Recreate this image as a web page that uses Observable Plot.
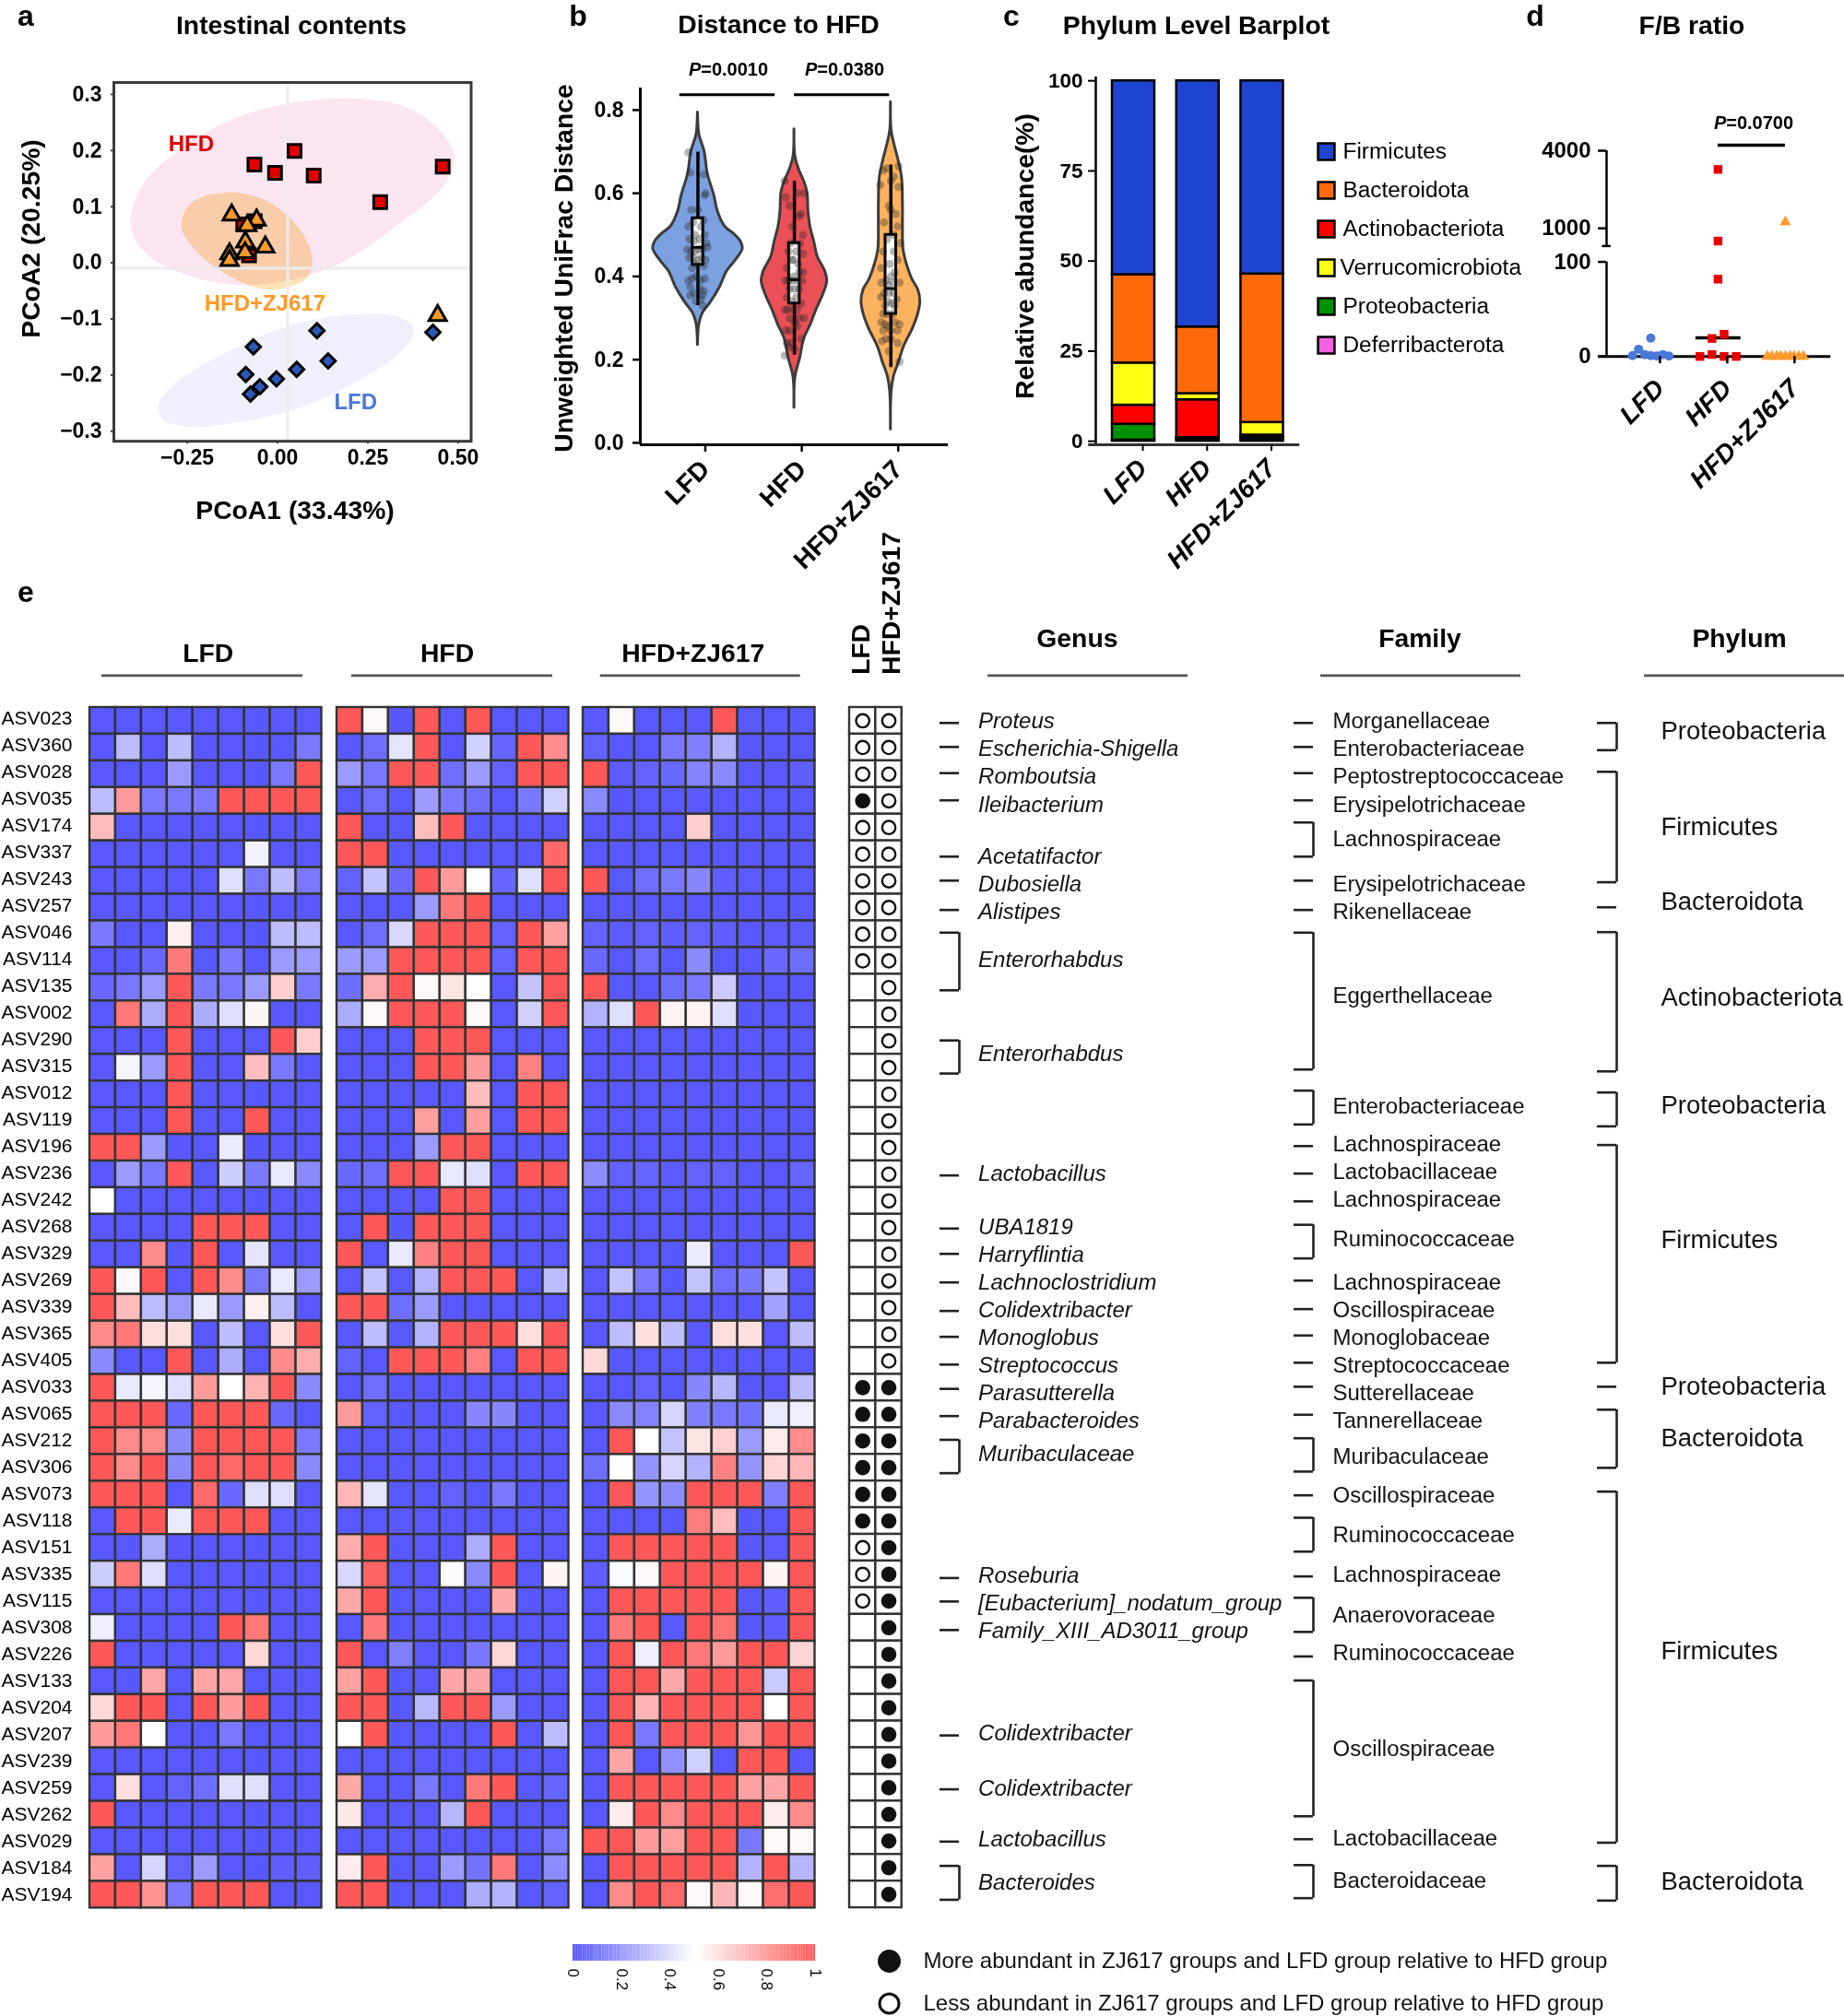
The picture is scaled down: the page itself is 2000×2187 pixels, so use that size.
<!DOCTYPE html>
<html><head><meta charset="utf-8">
<script src="https://cdn.jsdelivr.net/npm/d3@7"></script>
<script src="https://cdn.jsdelivr.net/npm/@observablehq/plot@0.6"></script>
<style>
html,body{margin:0;padding:0;background:#fff}
#page{position:relative;width:2000px;height:2187px;overflow:hidden;font-family:"Liberation Sans",Arial,sans-serif;color:#000}
#page>svg{position:absolute;overflow:visible;background:transparent}
.note{position:absolute;white-space:nowrap;line-height:1}
</style></head><body><div id="page"></div>
<script>
// ---------- Panel a: PCoA ----------
const pcoaHFD=[[-0.092,0.185],[-0.035,0.170],[0.019,0.209],[0.072,0.165],[0.256,0.118],[0.429,0.181],[-0.091,0.084],[-0.123,0.078],[-0.107,0.023]];
const pcoaZJ=[[-0.155,0.095],[-0.086,0.086],[-0.112,0.076],[-0.117,0.047],[-0.062,0.038],[-0.118,0.028],[-0.161,0.026],[-0.161,0.014],[0.415,-0.084]];
const pcoaLFD=[[0.081,-0.111],[-0.095,-0.140],[0.112,-0.165],[0.025,-0.180],[-0.116,-0.189],[-0.031,-0.197],[-0.077,-0.211],[-0.103,-0.224],[0.402,-0.114]];
const ellipseHFD=[[-0.435,0.081],[-0.40,0.150],[-0.282,0.219],[-0.109,0.276],[0.164,0.303],[0.345,0.282],[0.445,0.226],[0.462,0.191],[0.427,0.144],[0.30,0.075],[0.145,0.009],[-0.009,-0.023],[-0.155,-0.029],[-0.30,-0.007],[-0.40,0.031]];
const ellipseZJ=[[-0.294,0.075],[-0.268,0.116],[-0.173,0.135],[-0.064,0.122],[0.027,0.075],[0.068,0.018],[0.05,-0.019],[-0.055,-0.038],[-0.155,-0.016],[-0.245,0.025]];
const ellipseLFD=[[-0.359,-0.246],[-0.318,-0.208],[-0.155,-0.145],[0.027,-0.098],[0.209,-0.081],[0.318,-0.089],[0.35,-0.111],[0.318,-0.145],[0.209,-0.196],[0.027,-0.25],[-0.155,-0.276],[-0.282,-0.282],[-0.345,-0.269]];
const pcoaXTicks=[-0.25,0,0.25,0.5];
const pcoaYTicks=[-0.3,-0.2,-0.1,0,0.1,0.2,0.3];

// ---------- Panel b: violins ----------
const groups=["LFD","HFD","HFD+ZJ617"];
const violinLFD=[[.794,0],[.756,.007],[.738,.017],[.701,.068],[.647,.102],[.593,.171],[.557,.205],[.520,.28],[.502,.375],[.484,.444],[.466,.464],[.439,.392],[.412,.30],[.376,.232],[.339,.137],[.312,.051],[.285,.014],[.235,0]];
const violinHFD=[[.754,0],[.688,.01],[.656,.05],[.629,.10],[.602,.135],[.557,.145],[.520,.165],[.484,.205],[.448,.24],[.412,.32],[.389,.34],[.357,.30],[.321,.23],[.285,.17],[.249,.10],[.204,.06],[.158,.01],[.084,0]];
const violinZJ=[[.819,0],[.751,.007],[.719,.035],[.683,.075],[.638,.115],[.575,.125],[.520,.125],[.466,.13],[.430,.165],[.394,.22],[.367,.285],[.339,.305],[.312,.285],[.276,.23],[.231,.135],[.195,.085],[.158,.03],[.122,.007],[.032,0]];
const jitterLFD=[[-.10,.698],[-.08,.65],[.06,.645],[.08,.60],[.07,.595],[-.07,.56],[0,.56],[-.05,.53],[.06,.535],[-.10,.52],[.03,.52],[-.03,.50],[.07,.50],[-.09,.49],[-.04,.485],[.02,.49],[.09,.48],[-.11,.465],[-.07,.46],[-.03,.46],[.01,.465],[.05,.465],[.10,.47],[-.09,.445],[-.05,.445],[0,.44],[.04,.445],[.08,.44],[-.02,.43],[.06,.425],[-.06,.42],[-.10,.39],[-.06,.395],[-.02,.40],[.03,.39],[.07,.395],[-.08,.375],[.02,.37],[.06,.365],[-.04,.36],[.05,.355],[-.08,.355],[.05,.33],[.03,.345],[-.02,.34]];
const jitterHFD=[[-.10,.63],[-.09,.59],[.03,.60],[.10,.60],[-.05,.57],[.07,.55],[.05,.545],[-.02,.52],[.09,.50],[-.04,.48],[.06,.48],[.02,.46],[-.06,.46],[.09,.455],[-.03,.44],[-.01,.44],[.04,.43],[-.08,.42],[.05,.41],[.09,.41],[-.01,.40],[-.09,.39],[-.06,.39],[-.02,.39],[.03,.39],[.08,.39],[-.05,.37],[0,.37],[.05,.37],[-.08,.35],[.02,.35],[-.03,.34],[.07,.335],[-.10,.32],[-.07,.32],[-.02,.32],[.03,.32],[-.05,.30],[0,.29],[.05,.30],[.1,.30],[.03,.28],[-.09,.27],[-.05,.27],[-.03,.24],[.07,.25],[-.08,.24],[-.06,.23],[-.1,.21],[0,.225]];
const jitterZJ=[[-.08,.655],[-.04,.66],[.03,.64],[.08,.665],[-.11,.62],[0,.63],[.08,.615],[-.02,.57],[0,.56],[.05,.55],[-.07,.53],[.07,.52],[.03,.50],[-.04,.49],[.1,.48],[-.08,.46],[.03,.46],[.07,.44],[-.01,.43],[-.10,.42],[.04,.41],[-.05,.39],[0,.40],[-.1,.385],[-.03,.38],[.03,.385],[.09,.385],[-.07,.36],[-.02,.36],[.03,.36],[-.1,.35],[.06,.345],[-.03,.34],[-.06,.33],[.01,.335],[.04,.33],[-.08,.31],[-.04,.31],[.02,.31],[-.1,.29],[-.06,.285],[-.03,.28],[.04,.29],[.09,.285],[-.08,.27],[0,.27],[.07,.27],[-.09,.245],[-.05,.25],[0,.25],[.07,.24],[-.02,.22],[.09,.195]];
const boxLow=[.428,.335,.31], boxHigh=[.54,.48,.50], boxMedian=[.47,.392,.371], whiskerLow=[.33,.211,.181], whiskerHigh=[.699,.629,.668];
const violinColors=["#7ba1e0","#ea5055","#fdb25f"];

// ---------- Panel c: stacked bars ----------
const phyla=["Firmicutes","Bacteroidota","Actinobacteriota","Verrucomicrobiota","Proteobacteria","Deferribacterota"];
const phylaColors=["#1f45d0","#ff6a0a","#ff0000","#ffff14","#009000","#f060e0"];
const stackOrder=["Deferribacterota","Proteobacteria","Actinobacteriota","Verrucomicrobiota","Bacteroidota","Firmicutes"];
const abundLFD={Firmicutes:53.8,Bacteroidota:24.5,Verrucomicrobiota:11.7,Actinobacteriota:5.3,Proteobacteria:4.4,Deferribacterota:.3};
const abundHFD={Firmicutes:68.3,Bacteroidota:18.5,Verrucomicrobiota:1.7,Actinobacteriota:10.5,Proteobacteria:.6,Deferribacterota:.4};
const abundZJ={Firmicutes:53.6,Bacteroidota:41.2,Verrucomicrobiota:3.5,Actinobacteriota:.7,Proteobacteria:.7,Deferribacterota:.3};

// ---------- Panel d: F/B ratio ----------
const fbLFD=[[-.27,.9],[-.18,7.6],[-.09,2],[0,19.4],[0,1],[.09,.5],[.18,2],[.27,.5]];
const fbHFD=[[-.27,0],[-.09,19],[-.09,2],[0,3277],[0,508],[0,81.7],[.09,23.5],[.09,0],[.27,0]];
const fbZJ=[[-.27,0],[-.2,0],[-.13,0],[-.07,0],[0,1242],[0,0],[.07,0],[.13,0],[.2,0],[.27,0]];
const fbYTicks=[0,100,1000,4000];

// ---------- Panel e: heat maps (tenths of the 0-1 scale) ----------
const asv=["ASV023","ASV360","ASV028","ASV035","ASV174","ASV337","ASV243","ASV257","ASV046","ASV114","ASV135","ASV002","ASV290","ASV315","ASV012","ASV119","ASV196","ASV236","ASV242","ASV268","ASV329","ASV269","ASV339","ASV365","ASV405","ASV033","ASV065","ASV212","ASV306","ASV073","ASV118","ASV151","ASV335","ASV115","ASV308","ASV226","ASV133","ASV204","ASV207","ASV239","ASV259","ASV262","ASV029","ASV184","ASV194"];
const heatLFD=[
[0,0,0,0,0,0,0,0,0],[0,3,0,3,0,0,0,0,1],[0,0,0,2,0,0,0,1,10],[3,8,1,1,1,10,10,10,10],[7,0,0,0,0,0,0,0,0],
[0,0,0,0,0,0,4.6,0,0],[0,0,0,0,0,4,1,3,1],[0,0,0,0,0,0,0,0,0],[1,0,0,5.5,0,0,0,3,3],[0,0,.5,9,0,1,0,2,2],
[.5,1,2,10,1,1,2,6.5,1],[0,9,2.5,10,2.5,4,5.3,0,0],[0,0,0,10,0,0,0,10,6.5],[0,4.7,2,10,0,0,7,1,0],[0,0,0,10,0,0,0,0,0],
[0,0,0,10,0,0,10,0,0],[10,10,2,0,0,4.4,0,0,0],[0,2,1,10,0,3.5,1,4.3,1.5],[5,0,0,0,0,0,0,0,0],[0,0,0,0,10,10,10,0,0],
[0,0,8.5,0,10,0,4.2,0,0],[10,5.2,10,0,10,8.5,1,4.3,2],[10,7,3,2,4.3,2,5.5,3,0],[8.5,9,6,6,0,3,0,6,10],[1.5,0,0,10,0,2.5,0,8.5,7.5],
[10,4.3,4.7,4,8,5,7.3,10,1.5],[10,10,10,.5,10,10,10,.5,0],[10,8.5,8.5,1.5,10,10,10,10,1],[10,8.5,10,1.5,10,9.5,10,10,1.5],[10,10,10,0,9.5,.5,4,4,0],
[0,10,10,4.4,10,10,10,0,0],[0,0,2.5,0,0,0,0,0,0],[3.5,9,4,0,0,0,0,0,0],[0,0,0,0,0,0,0,0,0],[4.5,0,0,0,0,10,9,0,0],
[10,0,0,0,0,0,6.2,0,0],[0,0,7.7,0,7.7,7.7,0,0,0],[6.2,10,10,0,10,8,10,0,0],[8,9,5,0,0,1,0,0,0],[0,0,0,0,0,0,0,0,0],
[0,6,0,.3,.7,4,4,0,0],[10,0,0,0,0,0,0,0,0],[0,0,0,0,0,0,0,0,0],[7.8,0,3.7,.3,2,0,0,.2,.2],[10,10,8.3,1,10,10,10,0,0]];
const heatHFD=[
[10,5.2,0,10,0,10,0,0,0],[0,.7,4.2,10,0,3.6,.4,10,8.4],[2,1,10,10,.7,2,.3,10,10],[0,.7,0,2,1,.7,0,1,3.6],[10,0,0,7,10,0,0,0,0],
[10,10,0,0,0,0,0,0,9.5],[.3,3.2,.5,10,8,5,.4,4,10],[0,0,0,2,9,10,0,0,0],[0,.7,3.8,10,10,10,.3,10,7.8],[2,2,10,10,10,10,.3,10,10],
[.7,7.5,10,5.2,5.8,5,0,3.2,10],[2.5,5.2,10,10,10,5.2,0,3.6,10],[0,0,0,10,10,10,0,0,0],[0,0,0,10,10,8,0,8.8,0],[0,0,0,0,0,7,0,10,10],
[0,0,0,7.9,0,7.9,0,10,10],[0,0,0,2,10,10,0,0,0],[.5,.7,10,10,4.3,4,0,10,10],[0,0,0,0,10,10,0,0,0],[0,10,0,10,10,10,0,0,0],
[10,0,4.3,8.8,10,10,0,0,0],[0,3.2,0,2.7,10,10,10,0,3],[10,10,.7,2,0,0,0,0,0],[0,3,0,2.7,10,10,10,6,10],[.3,0,10,10,10,8.8,0,10,10],
[0,.7,0,0,0,0,0,0,0],[8,.3,0,0,0,1.4,1.4,0,0],[0,0,0,0,0,0,0,0,0],[0,0,0,0,0,0,0,0,0],[7.2,4.2,0,0,.3,0,1,0,0],
[0,0,0,0,0,0,0,0,0],[7.5,10,0,0,0,2.5,10,0,0],[3.8,9.6,0,0,4.9,1.5,10,0,5.3],[7.6,10,0,0,0,0,7.6,0,0],[0,9,0,0,0,0,0,0,0],
[10,0,1.2,0,0,1,6.2,0,0],[7.8,10,0,0,7.7,7.7,0,0,0],[10,10,0,2.9,10,10,2,0,0],[5,10,0,0,0,0,10,0,3],[0,0,0,0,0,0,0,0,0],
[7.6,0,0,1,0,9,10,0,.4],[5.7,0,0,0,2.8,10,0,0,0],[0,0,0,0,0,0,0,0,1],[5.6,10,0,0,2,.8,9,0,1.6],[10,10,0,0,0,2.5,2.7,0,.3]];
const heatZJ=[
[0,5.2,0,0,0,10,0,0,0],[.3,0,0,1,1.2,2.7,0,0,0],[10,.1,.3,.5,1.3,1.5,0,0,.2],[1.5,0,0,0,0,0,0,0,0],[0,0,0,0,6.5,0,0,0,0],
[0,0,0,0,0,0,0,0,0],[10,0,.7,1,1.4,.2,.1,0,0],[0,0,0,0,0,0,0,0,0],[.3,.1,.3,.2,.3,.2,0,.1,.1],[.5,0,.6,0,1.5,0,0,.5,.6],
[10,0,0,.6,1,3.4,0,0,0],[2.7,4,10,5.4,5.4,4,0,0,0],[0,0,0,0,0,0,0,0,0],[0,0,0,0,0,0,0,0,0],[0,0,0,0,0,0,0,0,0],
[0,0,0,0,0,0,0,0,0],[0,0,0,0,0,0,0,0,0],[1.6,.3,.4,.1,.3,.3,0,0,.4],[0,0,0,0,0,0,0,0,0],[0,0,0,0,0,0,0,0,0],
[0,0,0,0,4.4,0,0,0,10],[0,3.2,1,0,3.2,.7,1,3.2,0],[0,0,0,0,0,0,0,2.2,0],[0,3,6,3,0,6,6,0,3],[6.2,0,0,0,0,0,0,0,0],
[0,0,.3,0,1.4,2.8,0,0,3],[0,1.5,1.3,3.7,1.2,1,.8,4.3,4.5],[0,10,5,3.2,5.8,6.4,2,5.6,8.4],[.7,5,1.8,3.7,2.7,8.8,1.8,6.3,7.2],[0,10,1.8,1.6,10,10,10,1.2,10],
[0,0,0,0,8.9,7,0,0,10],[0,10,10,10,10,10,0,.1,10],[.2,4.9,5.2,10,10,10,10,5.3,10],[0,10,10,10,10,10,0,.2,10],[0,9,10,0,10,9.2,0,.2,10],
[0,10,4.5,10,9,8,10,10,6.3],[0,10,10,7.6,10,10,10,3.4,10],[0,10,7.3,10,10,10,10,5,10],[0,10,1,10,10,10,8.2,10,10],[0,7.7,0,1.7,3.6,0,10,10,0],
[0,10,10,10,10,10,7.8,7.7,10],[0,5.6,10,8.5,10,10,10,5.6,8.5],[10,10,8,7.9,10,10,1,5.2,5.2],[0,10,10,10,10,10,2.7,10,2.8],[0,8.5,10,9.5,5.2,7.2,5.2,9.3,10]];
// 1 more abundant, 0 less abundant, null no mark
const sigLFD=[0,0,0,1,0,0,0,0,0,0,null,null,null,null,null,null,null,null,null,null,null,null,null,null,null,1,1,1,1,1,1,0,0,0,null,null,null,null,null,null,null,null,null,null,null];
const sigZJ=[0,0,0,0,0,0,0,0,0,0,0,0,0,0,0,0,0,0,0,0,0,0,0,0,0,1,1,1,1,1,1,1,1,1,1,1,1,1,1,1,1,1,1,1,1];
// taxonomy labels with their row position; marks span row positions
const genusNames=["Proteus","Escherichia-Shigella","Romboutsia","Ileibacterium","Acetatifactor","Dubosiella","Alistipes","Enterorhabdus","Enterorhabdus","Lactobacillus","UBA1819","Harryflintia","Lachnoclostridium","Colidextribacter","Monoglobus","Streptococcus","Parasutterella","Parabacteroides","Muribaculaceae","Roseburia","[Eubacterium]_nodatum_group","Family_XIII_AD3011_group","Colidextribacter","Colidextribacter","Lactobacillus","Bacteroides"];
const genusRows=[.51,1.54,2.58,3.65,5.59,6.62,7.66,9.46,12.98,17.47,19.47,20.51,21.55,22.59,23.63,24.66,25.7,26.74,27.98,32.54,33.58,34.63,38.45,40.53,42.42,44.03];
const genusSpans=[[.58],[1.48],[2.46],[3.48],[5.59],[6.49],[7.59],[8.44,10.6],[12.48,13.72],[17.54],[19.53],[20.48],[21.55],[22.62],[23.59],[24.63],[25.54],[26.56],[27.45,28.7],[32.63],[33.51],[34.58],[38.53],[40.55],[42.51],[43.42,44.69]];
const familyNames=["Morganellaceae","Enterobacteriaceae","Peptostreptococcaceae","Erysipelotrichaceae","Lachnospiraceae","Erysipelotrichaceae","Rikenellaceae","Eggerthellaceae","Enterobacteriaceae","Lachnospiraceae","Lactobacillaceae","Lachnospiraceae","Ruminococcaceae","Lachnospiraceae","Oscillospiraceae","Monoglobaceae","Streptococcaceae","Sutterellaceae","Tannerellaceae","Muribaculaceae","Oscillospiraceae","Ruminococcaceae","Lachnospiraceae","Anaerovoraceae","Ruminococcaceae","Oscillospiraceae","Lactobacillaceae","Bacteroidaceae"];
const familyRows=[.51,1.54,2.58,3.65,4.95,6.62,7.66,10.8,14.95,16.37,17.4,18.44,19.93,21.55,22.59,23.63,24.66,25.7,26.74,28.08,29.53,31.02,32.51,34.02,35.44,39.04,42.39,43.98];
const familySpans=[[.58],[1.48],[2.46],[3.48],[4.31,5.59],[6.49],[7.59],[8.44,13.57],[14.36,15.63],[16.44],[17.47],[18.51],[19.39,20.65],[21.48],[22.55],[23.54],[24.56],[25.46],[26.51],[27.39,28.64],[29.53],[30.37,31.64],[32.57],[33.37,34.65],[35.57],[36.47,41.56],[42.42],[43.39,44.63]];
const phylumNames=["Proteobacteria","Firmicutes","Bacteroidota","Actinobacteriota","Proteobacteria","Firmicutes","Proteobacteria","Bacteroidota","Firmicutes","Bacteroidota"];
const phylumRows=[.89,4.47,7.28,10.87,14.92,19.96,25.46,27.39,35.38,44.01];
const phylumSpans=[[.58,1.6],[2.41,6.55],[7.49],[8.42,13.64],[14.43,15.7],[16.4,24.56],[25.46],[26.32,28.5],[29.39,42.55],[43.42,44.72]];
const colorbarTicks=[0,.2,.4,.6,.8,1];
const legendLabels=["More abundant in ZJ617 groups and LFD group relative to HFD group","Less abundant in ZJ617 groups and LFD group relative to HFD group"];

// ---------- helpers ----------
const page=document.getElementById("page");
const FONT='"Liberation Sans",Arial,sans-serif';
const TITLE=28.3;
function place(left,top,width,height,opts){
  const svg=Plot.plot({width,height,marginLeft:0,marginRight:0,marginTop:0,marginBottom:0,
    style:{fontFamily:FONT,overflow:"visible",background:"transparent"},...opts});
  svg.style.left=left+"px";svg.style.top=top+"px";page.appendChild(svg);return svg;
}
function note(html,x,y,o={}){
  const d=document.createElement("div");d.className="note";d.innerHTML=html;
  const a=o.anchor==="start"?"0":o.anchor==="end"?"-100%":"-50%";
  d.style.cssText+=`left:${x}px;top:${y}px;font-size:${o.size||24}px;font-weight:${o.weight||"bold"};font-style:${o.italic?"italic":"normal"};transform-origin:0 0;transform:rotate(${o.rotate||0}deg) translate(${a},-50%);`;
  page.appendChild(d);
}
const pts=a=>a.map(([x,y])=>({x,y}));

// ---------- Panel a ----------
note("a",28,16.5,{size:32});
note("Intestinal contents",316,27,{size:TITLE});
note("PCoA1 (33.43%)",320,553,{size:TITLE});
note("PCoA2 (20.25%)",33,259,{size:TITLE,rotate:-90});
place(122.5,88.8,387.5,389.2,{
  x:{domain:[-0.481,0.5077]},y:{domain:[-0.308,0.331]},
  marks:[
    Plot.line(pts(ellipseZJ),{x:"x",y:"y",curve:"catmull-rom-closed",fill:"#fde3b5",stroke:"none"}),
    Plot.line(pts(ellipseHFD),{x:"x",y:"y",curve:"catmull-rom-closed",fill:"#fbe5f0",stroke:"none",mixBlendMode:"multiply"}),
    Plot.line(pts(ellipseLFD),{x:"x",y:"y",curve:"catmull-rom-closed",fill:"#f0f0fc",stroke:"none"}),
    Plot.ruleX([0],{stroke:"#ececec",strokeWidth:3}),
    Plot.ruleY([0],{stroke:"#ececec",strokeWidth:3}),
    Plot.frame({stroke:"#3a3a3a",strokeWidth:3}),
    Plot.axisX(pcoaXTicks,{tickSize:3,tickPadding:6,strokeWidth:2,stroke:"#3a3a3a",fontSize:23,fontWeight:"bold",fill:"#000",dx:-11,tickFormat:d3.format(".2f"),label:null}),
    Plot.axisY(pcoaYTicks,{tickSize:3,tickPadding:10,strokeWidth:2,stroke:"#3a3a3a",fontSize:23,fontWeight:"bold",fill:"#000",dy:-6,tickFormat:d3.format(".1f"),label:null}),
    Plot.dot(pts(pcoaHFD),{x:"x",y:"y",symbol:"square",r:7.9,fill:"#e00000",stroke:"#000",strokeWidth:3}),
    Plot.dot(pts(pcoaZJ),{x:"x",y:"y",symbol:"triangle",r:7,fill:"#fb9a28",stroke:"#000",strokeWidth:3}),
    Plot.dot(pts(pcoaLFD),{x:"x",y:"y",symbol:"diamond2",r:7.1,fill:"#2a5ab8",stroke:"#000",strokeWidth:3}),
    Plot.text(["HFD"],{x:()=>-0.267,y:()=>0.221,fill:"#e00000",fontSize:24,fontWeight:"bold"}),
    Plot.text(["HFD+ZJ617"],{x:()=>-0.063,y:()=>-0.062,fill:"#fb9a28",fontSize:24,fontWeight:"bold"}),
    Plot.text(["LFD"],{x:()=>0.188,y:()=>-0.238,fill:"#4a78d8",fontSize:24,fontWeight:"bold"})
  ]});

// ---------- Panel b ----------
note("b",627,16.5,{size:32});
note("Distance to HFD",844.5,26,{size:TITLE});
note("Unweighted UniFrac Distance",611,291,{size:TITLE,rotate:-90});
note("<i>P</i>=0.0010",790,75,{size:20});
note("<i>P</i>=0.0380",916,75,{size:20});
const violinMarks=[[violinLFD,jitterLFD],[violinHFD,jitterHFD],[violinZJ,jitterZJ]];
const boxes=groups.map((g,i)=>({i,lo:boxLow[i],hi:boxHigh[i],med:boxMedian[i],wl:whiskerLow[i],wh:whiskerHigh[i]}));
place(694,94.7,334,386.9,{
  x:{domain:[-0.597,2.595]},y:{domain:[-0.0044,0.853]},
  marks:[
    ...violinMarks.map(([v],i)=>Plot.areaX(v.map(([y,w])=>({y,a:i-w,b:i+w})),{x1:"a",x2:"b",y:"y",curve:"catmull-rom",fill:violinColors[i],stroke:"#3c3c3c",strokeWidth:3})),
    Plot.ruleX(boxes,{x:"i",y1:"wl",y2:"wh",stroke:"#000",strokeWidth:3.5}),
    Plot.rect(boxes,{x1:d=>d.i-.055,x2:d=>d.i+.055,y1:"lo",y2:"hi",fill:"#fff",stroke:"#000",strokeWidth:3}),
    ...violinMarks.map(([,j],i)=>Plot.dot(j.map(([dx,y])=>({x:i+dx,y})),{x:"x",y:"y",r:4.4,fill:"#222",fillOpacity:.33})),
    Plot.ruleY(boxes,{y:"med",x1:d=>d.i-.055,x2:d=>d.i+.055,stroke:"#000",strokeWidth:3}),
    Plot.ruleX([-0.597],{stroke:"#000",strokeWidth:3}),
    Plot.ruleY([-0.0044],{stroke:"#000",strokeWidth:3}),
    Plot.ruleY([.837],{x1:()=>-.188,x2:()=>.80,stroke:"#000",strokeWidth:3}),
    Plot.ruleY([.837],{x1:()=>1,x2:()=>1.986,stroke:"#000",strokeWidth:3}),
    Plot.axisY([0,.2,.4,.6,.8],{tickSize:8,tickPadding:10,strokeWidth:2.5,fontSize:23,fontWeight:"bold",tickFormat:d3.format(".1f"),label:null}),
    Plot.axisX([0,1,2],{tickSize:8,tickPadding:14,strokeWidth:2.5,fontSize:28,fontWeight:"bold",tickRotate:-45,dx:8,tickFormat:i=>groups[i],label:null})
  ]});

// ---------- Panel c ----------
note("c",1097,16.5,{size:32});
note("Phylum Level Barplot",1297.5,27,{size:TITLE});
note("Relative abundance(%)",1111,278,{size:TITLE,rotate:-90});
const abund=[abundLFD,abundHFD,abundZJ];
const stacked=abund.flatMap((a,i)=>{let c=0;return stackOrder.map(p=>{const s={i,p,y1:c,y2:c+a[p]};c+=a[p];return s;});});
place(1187.7,83,221.3,399,{
  x:{domain:[-0.588,2.585]},y:{domain:[-0.98,101.07]},
  color:{domain:phyla,range:phylaColors},
  marks:[
    Plot.rect(stacked,{x1:d=>d.i-.33,x2:d=>d.i+.33,y1:"y1",y2:"y2",fill:"p",stroke:"#000",strokeWidth:2.5}),
    Plot.ruleX([-0.588],{stroke:"#000",strokeWidth:2.5}),
    Plot.ruleY([-0.98],{x1:()=>-0.7,x2:()=>2.585,stroke:"#333",strokeWidth:3}),
    Plot.axisY([0,25,50,75,100],{tickSize:8,tickPadding:6,strokeWidth:2,fontSize:22.5,fontWeight:"bold",label:null}),
    Plot.axisX([0,1,2],{tickSize:7,tickPadding:14,strokeWidth:2,fontSize:28,fontWeight:"bold",fontStyle:"italic",tickRotate:-45,dx:10,tickFormat:i=>groups[i],label:null})
  ]});
place(1429,161.9,60,214.3,{
  x:{domain:[0,1],range:[9,60],axis:null},y:{type:"point",domain:phyla,axis:null,padding:0},
  color:{domain:phyla,range:phylaColors},
  marks:[
    Plot.dot(phyla,{x:()=>0,y:d=>d,symbol:"square",r:10.1,fill:d=>d,stroke:"#000",strokeWidth:2.5}),
    Plot.text(phyla.filter(d=>d!=="Verrucomicrobiota"),{x:()=>0,y:d=>d,text:d=>d,dx:18,textAnchor:"start",fontSize:24.4}),
    Plot.text(phyla.filter(d=>d==="Verrucomicrobiota"),{x:()=>0,y:d=>d,text:d=>d,dx:15,textAnchor:"start",fontSize:24.4})
  ]});

// ---------- Panel d ----------
note("d",1665,16.5,{size:32});
note("F/B ratio",1835,27,{size:TITLE});
note("<i>P</i>=0.0700",1902,133,{size:20});
const dX=[-0.656,2.677];
place(1741.7,148.6,243.3,237.2,{
  x:{domain:dX},
  y:{type:"linear",domain:[0,100,316,1000,4000,4500],range:[237.2,134.6,117.4,98.2,14,0]},
  marks:[
    Plot.ruleY([0],{x1:()=>-0.78,x2:()=>dX[1],stroke:"#000",strokeWidth:3}),
    Plot.ruleX([dX[0]],{y1:()=>0,y2:()=>100,stroke:"#000",strokeWidth:2.5}),
    Plot.ruleX([dX[0]],{y1:()=>316,y2:()=>4000,stroke:"#000",strokeWidth:2.5}),
    Plot.ruleY([316],{x1:()=>-0.72,x2:()=>-0.59,stroke:"#000",strokeWidth:2.5}),
    Plot.ruleY([19.6],{x1:()=>.67,x2:()=>1.34,stroke:"#000",strokeWidth:3.5}),
    Plot.ruleY([4217],{x1:()=>1,x2:()=>2,stroke:"#000",strokeWidth:3.5}),
    Plot.dot(pts(fbLFD).map(d=>({x:d.x,y:d.y})),{x:"x",y:"y",r:5,fill:"#4a78d8"}),
    Plot.dot(pts(fbHFD).map(d=>({x:1+d.x,y:d.y})),{x:"x",y:"y",symbol:"square",r:5.3,fill:"#e60000"}),
    Plot.dot(pts(fbZJ).map(d=>({x:2+d.x,y:d.y})),{x:"x",y:"y",symbol:"triangle",r:4.6,fill:"#ff9a2e"}),
    Plot.axisY(fbYTicks,{tickSize:9,tickPadding:8,strokeWidth:2.5,fontSize:24,fontWeight:"bold",tickFormat:d=>String(d),label:null}),
    Plot.axisX([0,1,2],{tickSize:8,tickPadding:22,strokeWidth:2.5,fontSize:28,fontWeight:"bold",fontStyle:"italic",tickRotate:-45,dx:10,tickFormat:i=>groups[i],label:null})
  ]});

// ---------- Panel e ----------
note("e",28,642,{size:32});
const heatColor={type:"linear",domain:[0,.5,1],range:["#5858ff","#ffffff","#ff5858"]};
function heatPanel(rows,left){
  const cells=rows.flatMap((r,j)=>r.map((t,c)=>({c,a:asv[j],v:t/10})));
  return place(left,767.3,251.5,1302.4,{
    x:{type:"band",domain:d3.range(9),axis:null,round:false,padding:0},
    y:{type:"band",domain:asv,axis:null,round:false,padding:0},
    color:heatColor,
    marks:[Plot.cell(cells,{x:"c",y:"a",fill:"v",stroke:"#333",strokeWidth:2.4,inset:0})]});
}
heatPanel(heatLFD,96.7);
heatPanel(heatHFD,364.5);
heatPanel(heatZJ,632.3);
place(78,779.3,1,1276.7,{
  x:{domain:[0,1],axis:null},y:{type:"point",domain:asv,axis:null,padding:0},
  marks:[Plot.text(asv,{x:()=>0,y:d=>d,text:d=>d,textAnchor:"end",fontSize:21,fill:"#000"})]});
const headers=[["LFD",225.7,219],["HFD",485,490],["HFD+ZJ617",751.7,759.2],["Genus",1168.4,1179.5],["Family",1540,1540.5],["Phylum",1886.5,1891.5]];
const headerWidths=[218,218,217,217,217,217];
headers.forEach(([t,x],i)=>note(t,x,i<3?708:692,{size:TITLE}));
place(0,725,2000,16,{
  x:{domain:[0,2000],axis:null},y:{domain:[0,16],axis:null},
  marks:[Plot.ruleY(headers,{y:()=>8.7,x1:(d,i)=>d[2]-headerWidths[i]/2,x2:(d,i)=>d[2]+headerWidths[i]/2,stroke:"#555",strokeWidth:2.8})]});
note("LFD",932.7,731.7,{size:TITLE,rotate:-90,anchor:"start"});
note("HFD+ZJ617",966,731.7,{size:TITLE,rotate:-90,anchor:"start"});
const sigCols=["LFD","HFD+ZJ617"];
const sigTable=asv.flatMap((a,j)=>[{a,k:"LFD",s:sigLFD[j]},{a,k:"HFD+ZJ617",s:sigZJ[j]}]);
place(921.3,767.3,56.7,1302.4,{
  x:{type:"band",domain:sigCols,axis:null,round:false,padding:0},
  y:{type:"band",domain:asv,axis:null,round:false,padding:0},
  marks:[
    Plot.cell(sigTable,{x:"k",y:"a",fill:"#fff",stroke:"#333",strokeWidth:2.4,inset:0}),
    Plot.dot(sigTable.filter(d=>d.s===0),{x:"k",y:"a",r:7.2,fill:"#fff",stroke:"#111",strokeWidth:2.4}),
    Plot.dot(sigTable.filter(d=>d.s===1),{x:"k",y:"a",r:8.3,fill:"#111"})
  ]});
function taxPanel(names,rows,spans,left,dx,size,italic){
  const labels=names.map((n,i)=>({n,r:rows[i]}));
  const lines=spans.flatMap(s=>s.map(r=>({r})));
  const verts=spans.filter(s=>s.length>1).map(s=>({a:s[0],b:s[1]}));
  place(left,767.3,21,1302.4,{
    x:{domain:[0,1],axis:null},y:{domain:[0,45],reverse:true,axis:null},
    marks:[
      Plot.ruleY(lines,{y:"r",x1:()=>0,x2:()=>1,stroke:"#222",strokeWidth:2.6}),
      Plot.ruleX(verts,{x:()=>1,y1:"a",y2:"b",stroke:"#222",strokeWidth:2.6}),
      Plot.text(labels,{x:()=>1,y:"r",text:"n",dx,textAnchor:"start",fontSize:size,fontStyle:italic?"italic":"normal",fill:"#111"})
    ]});
}
taxPanel(genusNames,genusRows,genusSpans,1019,20.6,24,true);
taxPanel(familyNames,familyRows,familySpans,1403,21,24,false);
taxPanel(phylumNames,phylumRows,phylumSpans,1732,48,27.5,false);
// colour bar
place(621,2109,263,18,{
  x:{domain:[0,1]},y:{domain:[0,1],axis:null},color:heatColor,
  marks:[
    Plot.rect(d3.range(0,1,.01),{x1:d=>d,x2:d=>d+.01,y1:()=>0,y2:()=>1,fill:d=>d}),
    Plot.axisX(colorbarTicks,{tickSize:0,tickPadding:8,fontSize:17,tickRotate:90,stroke:"none",tickFormat:d=>String(d),label:null})
  ]});
// significance legend
place(940,2105,1060,70,{
  x:{domain:[0,1060],axis:null},y:{type:"point",domain:legendLabels,range:[22,68],axis:null,padding:0},
  marks:[
    Plot.dot(legendLabels.slice(0,1),{x:()=>24,y:d=>d,r:12.5,fill:"#111"}),
    Plot.dot(legendLabels.slice(1),{x:()=>24,y:d=>d,r:10.5,fill:"#fff",stroke:"#111",strokeWidth:3}),
    Plot.text(legendLabels,{x:()=>61,y:d=>d,text:d=>d,textAnchor:"start",fontSize:24,fill:"#111"})
  ]});
</script></body></html>
